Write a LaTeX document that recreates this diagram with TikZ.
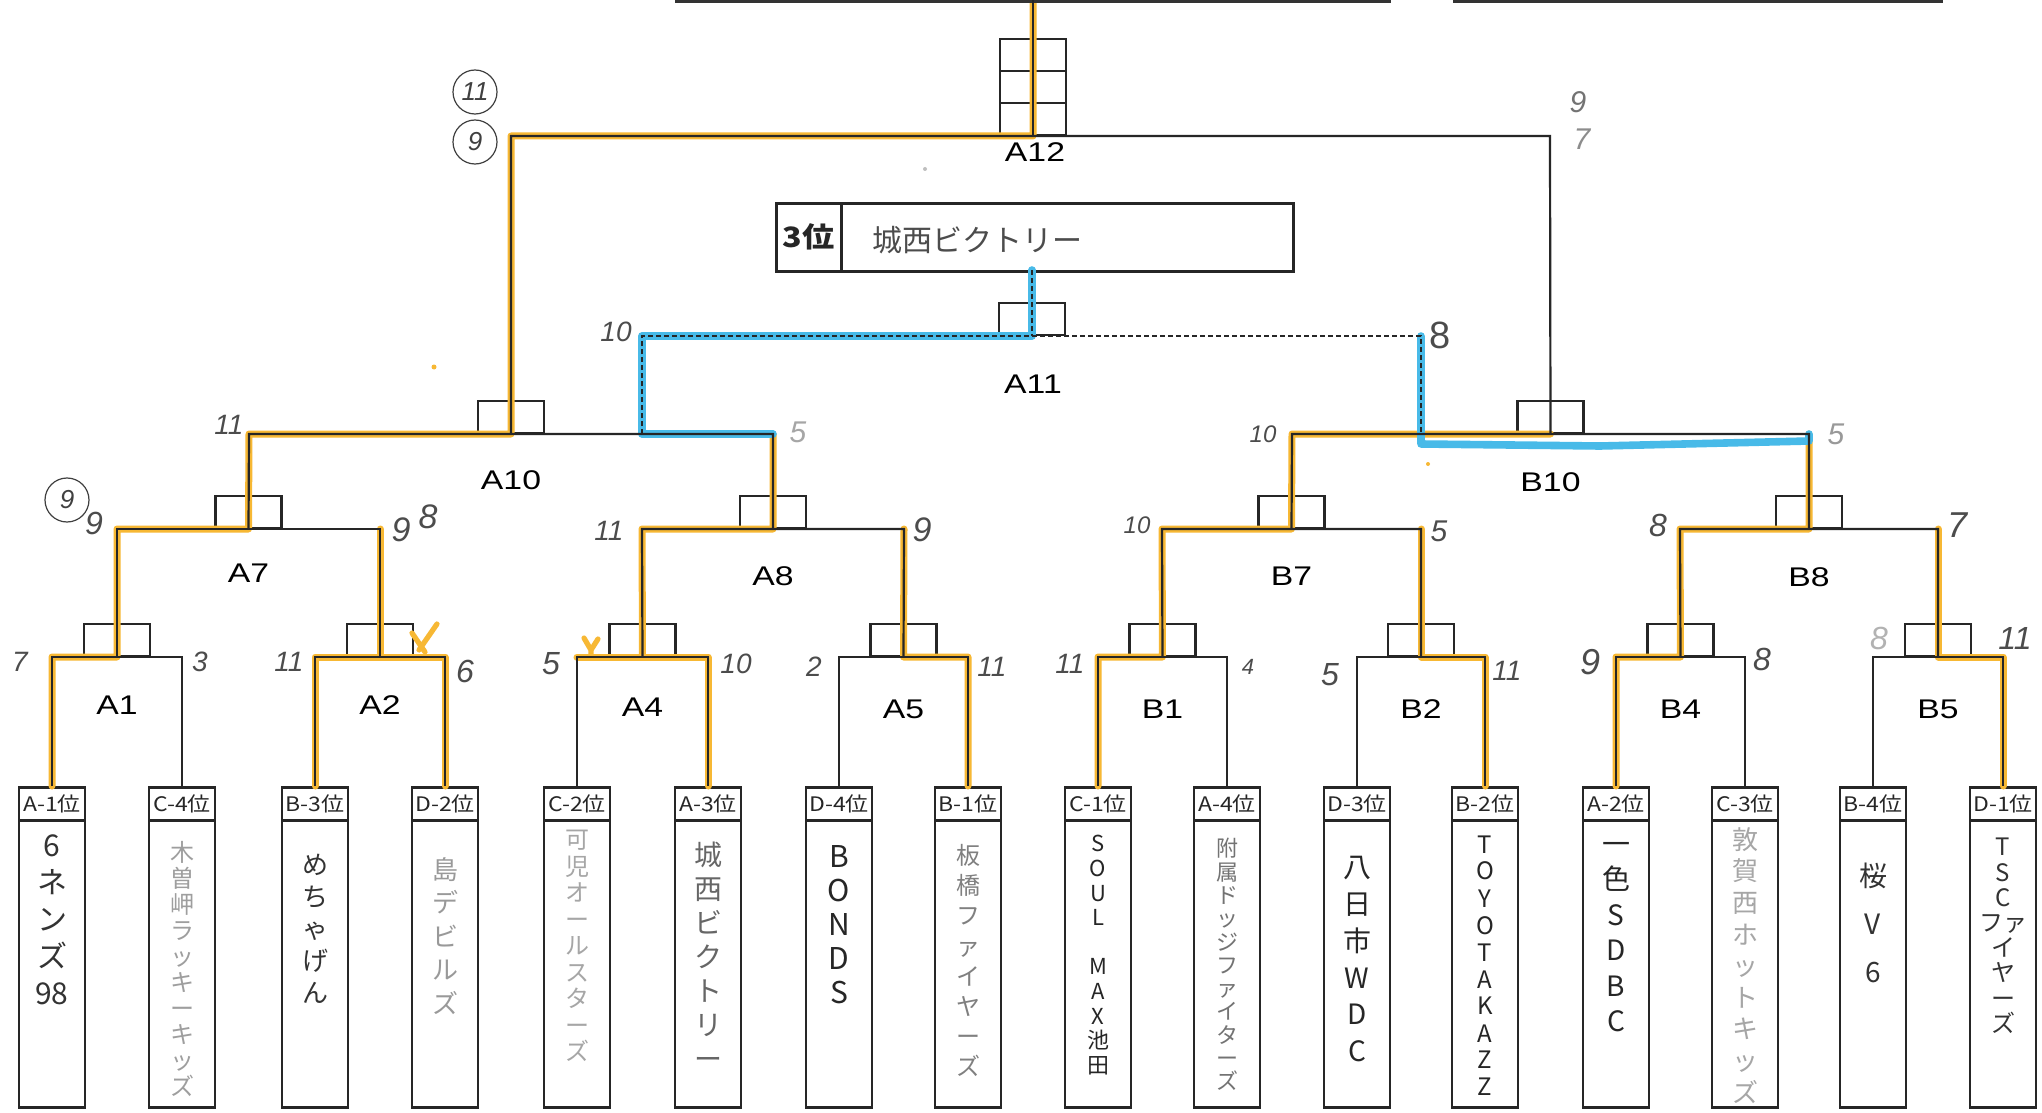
\documentclass[tikz,border=0pt]{standalone}
\usepackage{fontspec}
\setmainfont{Liberation Sans}
\newfontfamily\lab{Liberation Sans}[FakeStretch=1.25]
\newfontfamily\jp{Noto Sans CJK JP}
\newfontfamily\jph{Noto Sans CJK JP}[FakeStretch=1.15]
\newfontfamily\hand{Liberation Sans}
\definecolor{hlor}{RGB}{247,184,52}
\definecolor{hlbl}{RGB}{72,186,232}
\tikzset{
  ln/.style={line width=1.1pt, black!85},
  dln/.style={line width=1.1pt, black!85, dash pattern=on 2.5pt off 1.5pt},
  hl/.style={line width=3.5pt, hlor, line cap=round, line join=round},
  bl/.style={line width=3.8pt, hlbl, line cap=round, line join=round},
  mbox/.style={draw, line width=1.1pt, black!85, minimum width=33pt, minimum height=16pt, inner sep=0, anchor=south},
  lbl/.style={font=\lab\fontsize{13.5}{13.5}\selectfont, inner sep=0},
  thd/.style={draw, line width=1.3pt, black!85, minimum width=33pt, minimum height=16.5pt, inner sep=0, anchor=north, font=\jph\fontsize{10}{10}\selectfont},
  tbd/.style={draw, line width=1.3pt, black!85, minimum width=33pt, minimum height=143.5pt, inner sep=0, anchor=north},
  tn/.style={anchor=north, align=center, inner sep=0},
  sc/.style={font=\hand\itshape\fontsize{14}{14}\selectfont, text=black!70, inner sep=0},
  circ/.style={draw, circle, line width=0.6pt, black!75, minimum size=22pt, inner sep=0, font=\hand\itshape\fontsize{13}{13}\selectfont, text=black!75},
}
\newcommand\match[6]{%
  \coordinate (#1l) at (#2,#4);
  \coordinate (#1r) at (#3,#4);
  \node[mbox] (#1) at ({(#2+#3)/2},#4) {};
  \node[lbl] (#1t) at ({(#2+#3)/2},#6) {#5};
}
\newcommand\team[3]{%
  \node[thd] (#1h) at (#2,786) {#3};
  \node[tbd] (#1b) at (#2,819) {};
}
\begin{document}
\begin{tikzpicture}[x=0.5pt,y=-0.5pt]
\useasboundingbox (0,0) rectangle (2042,1113);
\fill[white] (0,0) rectangle (2042,1113);

% ---------- matches ----------
\match{A1}{52}{182}{657}{A1}{705}
\match{A2}{315}{445}{657}{A2}{705}
\match{A4}{577}{708}{657}{A4}{707}
\match{A5}{839}{968}{657}{A5}{709}
\match{B1}{1098}{1227}{657}{B1}{709}
\match{B2}{1357}{1485}{657}{B2}{709}
\match{B4}{1616}{1745}{657}{B4}{709}
\match{B5}{1873}{2003}{657}{B5}{709}
\match{A7}{117}{380}{529}{A7}{573}
\match{A8}{642}{904}{529}{A8}{576}
\match{B7}{1162}{1421}{529}{B7}{576}
\match{B8}{1680}{1938}{529}{B8}{577}
\match{A10}{249}{773}{434}{A10}{480}
\match{B10}{1292}{1809}{434}{B10}{482}

% A12
\coordinate (A12l) at (511,136);
\coordinate (A12r) at (1550,136);
\node[mbox] (A12a) at (1033,136) {};
\node[mbox] (A12b) at (1033,104) {};
\node[mbox] (A12c) at (1033,72) {};
\node[lbl] (A12t) at (1035,152) {A12};
\coordinate (top) at (1033,0);

% A11
\coordinate (A11l) at (642,336);
\coordinate (A11r) at (1421,336);
\coordinate (A10x) at (642,434);
\coordinate (B10x) at (1421,434);
\node[mbox] (A11) at (1032,336) {};
\node[lbl] (A11t) at (1033,384) {A11};

% 3rd place box
\node[draw, line width=1.3pt, black!85, minimum width=32.5pt, minimum height=34pt, inner sep=0, anchor=north west,
      font=\jph\bfseries\fontsize{14}{14}\selectfont] (p3h) at (775,202) {3位};
\node[draw, line width=1.3pt, black!85, minimum width=226pt, minimum height=34pt, inner sep=0, anchor=north west] (p3b) at (840,202) {};
\node[font=\jp\fontsize{15}{15}\selectfont, text=black!70, inner sep=0] (p3n) at (977,240) {城西ビクトリー};
\coordinate (p3d) at (1032,270);

% top boxes (cut off)
\coordinate (tb1) at (675,1); \coordinate (tb2) at (1391,1);
\coordinate (tb3) at (1453,1); \coordinate (tb4) at (1943,1);

% ---------- teams ----------
\team{tA1}{52}{A-1位}
\team{tC4}{182}{C-4位}
\team{tB3}{315}{B-3位}
\team{tD2}{445}{D-2位}
\team{tC2}{577}{C-2位}
\team{tA3}{708}{A-3位}
\team{tD4}{839}{D-4位}
\team{tB1}{968}{B-1位}
\team{tC1}{1098}{C-1位}
\team{tA4}{1227}{A-4位}
\team{tD3}{1357}{D-3位}
\team{tB2}{1485}{B-2位}
\team{tA2}{1616}{A-2位}
\team{tC3}{1745}{C-3位}
\team{tB4}{1873}{B-4位}
\team{tD1}{2003}{D-1位}

% ---------- highlights (under the lines) ----------
\draw[hl] (tA1h.north) -- (A1l) -- (A1.south) -- (A7l) -- (A7.south) -- (A10l) -- (A10.south) -- (A12l) -- (A12a.south) -- (top);
\draw[hl] (tB3h.north) -- (A2l) -- (A2r) -- (tD2h.north);
\draw[hl] (A2.south) -- (A7r);
\draw[hl] (A4l) -- (A4r) -- (tA3h.north);
\draw[hl] (A4.south) -- (A8l) -- (A8.south) -- (A10r);
\draw[hl] (tB1h.north) -- (A5r) -- (A5.south) -- (A8r);
\draw[hl] (tC1h.north) -- (B1l) -- (B1.south) -- (B7l) -- (B7.south) -- (B10l) -- (B10.south);
\draw[hl] (tB2h.north) -- (B2r) -- (B2.south) -- (B7r);
\draw[hl] (tA2h.north) -- (B4l) -- (B4.south) -- (B8l) -- (B8.south) -- (B10r);
\draw[hl] (tD1h.north) -- (B5r) -- (B5.south) -- (B8r);
% marks
\coordinate (x1) at (437,624); \coordinate (x2) at (419,650);
\coordinate (x3) at (412,633); \coordinate (x4) at (425,652);
\draw[hl, line width=2.6pt] (x1) -- (x2) (x3) -- (x4);
\coordinate (y1) at (584,638); \coordinate (y2) at (591,650); \coordinate (y3) at (598,639); \coordinate (y4) at (591,657);
\draw[hl, line width=2.6pt] (y1) -- (y2) -- (y3) (y2) -- (y4);
\fill[hlor] (434,367) circle (2.5);
\fill[hlor] (1428,464) circle (2);
% blue (3rd place)
\draw[bl] (p3d) -- (A11.south) -- (A11l) -- (A10x) -- (A10r);
\coordinate (bw1) at (1421,444); \coordinate (bw2) at (1600,446); \coordinate (bw3) at (1809,441);
\draw[bl] (A11r) -- (B10x) -- (bw1) -- (bw2) -- (bw3) -- (B10r);

% ---------- bracket lines ----------
\draw[line width=1.6pt, black!80] (tb1) -- (tb2) (tb3) -- (tb4);
\foreach \m/\a/\b in {A1/tA1/tC4, A2/tB3/tD2, A4/tC2/tA3, A5/tD4/tB1, B1/tC1/tA4, B2/tD3/tB2, B4/tA2/tC3, B5/tB4/tD1}{
  \draw[ln] (\a h.north) -- (\m l) -- (\m r) -- (\b h.north);
}
\draw[ln] (A1.south) -- (A7l) -- (A7r) -- (A2.south);
\draw[ln] (A4.south) -- (A8l) -- (A8r) -- (A5.south);
\draw[ln] (B1.south) -- (B7l) -- (B7r) -- (B2.south);
\draw[ln] (B4.south) -- (B8l) -- (B8r) -- (B5.south);
\draw[ln] (A7.south) -- (A10l) -- (A10r) -- (A8.south);
\draw[ln] (B7.south) -- (B10l) -- (B10r) -- (B8.south);
\draw[ln] (A10.south) -- (A12l) -- (A12r) -- (B10.south);
\draw[ln] (A12a.south) -- (top);
\draw[dln] (A10x) -- (A11l) -- (A11r) -- (B10x);
\draw[dln] (p3d) -- (A11.south);

% ---------- team names ----------
\node[tn, font=\jp\fontsize{15}{18.5}\selectfont, text=black!80] (nA1) at (52,834) {6\\ネ\\ン\\ズ\\98};
\node[tn, font=\jp\fontsize{12}{13}\selectfont, text=black!38] (nC4) at (182,841) {木\\曽\\岬\\ラ\\ッ\\キ\\ー\\キ\\ッ\\ズ};
\node[tn, font=\jp\fontsize{13}{16}\selectfont, text=black!80] (nB3) at (315,854) {め\\ち\\ゃ\\げ\\ん};
\node[tn, font=\jp\fontsize{13}{16.75}\selectfont, text=black!40] (nD2) at (445,857) {島\\デ\\ビ\\ル\\ズ};
\node[tn, font=\jp\fontsize{12}{13.25}\selectfont, text=black!35] (nC2) at (577,830) {可\\児\\オ\\ー\\ル\\ス\\タ\\ー\\ズ};
\node[tn, font=\jp\fontsize{14}{17}\selectfont, text=black!60] (nA3) at (708,842) {城\\西\\ビ\\ク\\ト\\リ\\ー};
\node[tn, font=\jp\fontsize{15}{17}\selectfont, text=black!85] (nD4) at (839,845) {B\\O\\N\\D\\S};
\node[tn, font=\jp\fontsize{12}{15.1}\selectfont, text=black!50] (nB1) at (968,844) {板\\橋\\フ\\ァ\\イ\\ヤ\\ー\\ズ};
\node[tn, font=\jp\fontsize{11}{12.3}\selectfont, text=black!85] (nC1) at (1098,835) {S\\O\\U\\L\\ \\M\\A\\X\\池\\田};
\node[tn, font=\jp\fontsize{11}{11.65}\selectfont, text=black!55] (nA4) at (1227,838) {附\\属\\ド\\ッ\\ジ\\フ\\ァ\\イ\\タ\\ー\\ズ};
\node[tn, font=\jp\fontsize{14}{18.4}\selectfont, text=black!85] (nD3) at (1357,856) {八\\日\\市\\W\\D\\C};
\node[tn, font=\jp\fontsize{12}{13.5}\selectfont, text=black!85] (nB2) at (1485,835) {T\\O\\Y\\O\\T\\A\\K\\A\\Z\\Z};
\node[tn, font=\jp\fontsize{14}{17.7}\selectfont, text=black!85] (nA2) at (1616,842) {一\\色\\S\\D\\B\\C};
\node[tn, font=\jp\fontsize{13}{15.8}\selectfont, text=black!35] (nC3) at (1745,827) {敦\\賀\\西\\ホ\\ッ\\ト\\キ\\ッ\\ズ};
\node[tn, font=\jp\fontsize{14}{24}\selectfont, text=black!80] (nB4) at (1873,863) {桜\\V\\6};
\node[tn, font=\jp\fontsize{12}{12.6}\selectfont, text=black!80] (nD1) at (2003,838) {T\\S\\C\\ファ\\イ\\ヤ\\ー\\ズ};

% ---------- scores ----------
\node[sc] (s1) at (20,662) {7};
\node[sc] (s2) at (200,662) {3};
\node[sc] (s3) at (289,662) {11};
\node[sc, font=\hand\itshape\fontsize{16}{16}\selectfont] (s4) at (465,671) {6};
\node[sc, font=\hand\itshape\fontsize{16}{16}\selectfont] (s5) at (551,664) {5};
\node[sc] (s6) at (736,664) {10};
\node[sc] (s7) at (814,667) {2};
\node[sc] (s8) at (992,667) {11};
\node[sc] (s9) at (1070,664) {11};
\node[sc, font=\hand\itshape\fontsize{11}{11}\selectfont] (s10) at (1248,667) {4};
\node[sc, font=\hand\itshape\fontsize{16}{16}\selectfont] (s11) at (1330,675) {5};
\node[sc] (s12) at (1507,671) {11};
\node[sc, font=\hand\itshape\fontsize{18}{18}\selectfont] (s13) at (1590,662) {9};
\node[sc, font=\hand\itshape\fontsize{16}{16}\selectfont] (s14) at (1762,659) {8};
\node[sc, font=\hand\itshape\fontsize{16}{16}\selectfont, text=black!30] (s15) at (1879,638) {8};
\node[sc, font=\hand\itshape\fontsize{16}{16}\selectfont] (s16) at (2015,638) {11};
\node[circ] (c1) at (67,500) {9};
\node[sc, font=\hand\itshape\fontsize{16}{16}\selectfont] (s17) at (94,523) {9};
\node[sc, font=\hand\itshape\fontsize{17}{17}\selectfont] (s18) at (401,530) {9};
\node[sc, font=\hand\itshape\fontsize{17}{17}\selectfont] (s19) at (428,517) {8};
\node[sc] (s20) at (609,531) {11};
\node[sc, font=\hand\itshape\fontsize{17}{17}\selectfont] (s21) at (922,530) {9};
\node[sc, font=\hand\itshape\fontsize{12}{12}\selectfont] (s22) at (1137,525) {10};
\node[sc, font=\hand\itshape\fontsize{15}{15}\selectfont] (s23) at (1439,531) {5};
\node[sc, font=\hand\itshape\fontsize{16}{16}\selectfont] (s24) at (1658,525) {8};
\node[sc, font=\hand\itshape\fontsize{18}{18}\selectfont] (s25) at (1957,525) {7};
\node[sc] (s26) at (229,425) {11};
\node[sc, font=\hand\itshape\fontsize{15}{15}\selectfont, text=black!35] (s27) at (798,432) {5};
\node[sc, font=\hand\itshape\fontsize{12}{12}\selectfont] (s28) at (1263,434) {10};
\node[sc, font=\hand\itshape\fontsize{15}{15}\selectfont, text=black!40] (s29) at (1836,434) {5};
\node[sc] (s30) at (616,332) {10};
\node[sc, font=\hand\fontsize{19}{19}\selectfont] (s31) at (1440,335) {8};
\node[circ] (c2) at (475,92) {11};
\node[circ] (c3) at (475,142) {9};
\node[sc, font=\hand\itshape\fontsize{15}{15}\selectfont, text=black!55] (s32) at (1578,102) {9};
\node[sc, font=\hand\itshape\fontsize{15}{15}\selectfont, text=black!45] (s33) at (1582,139) {7};
\fill[black!25] (925,169) circle (2);
\end{tikzpicture}
\end{document}
